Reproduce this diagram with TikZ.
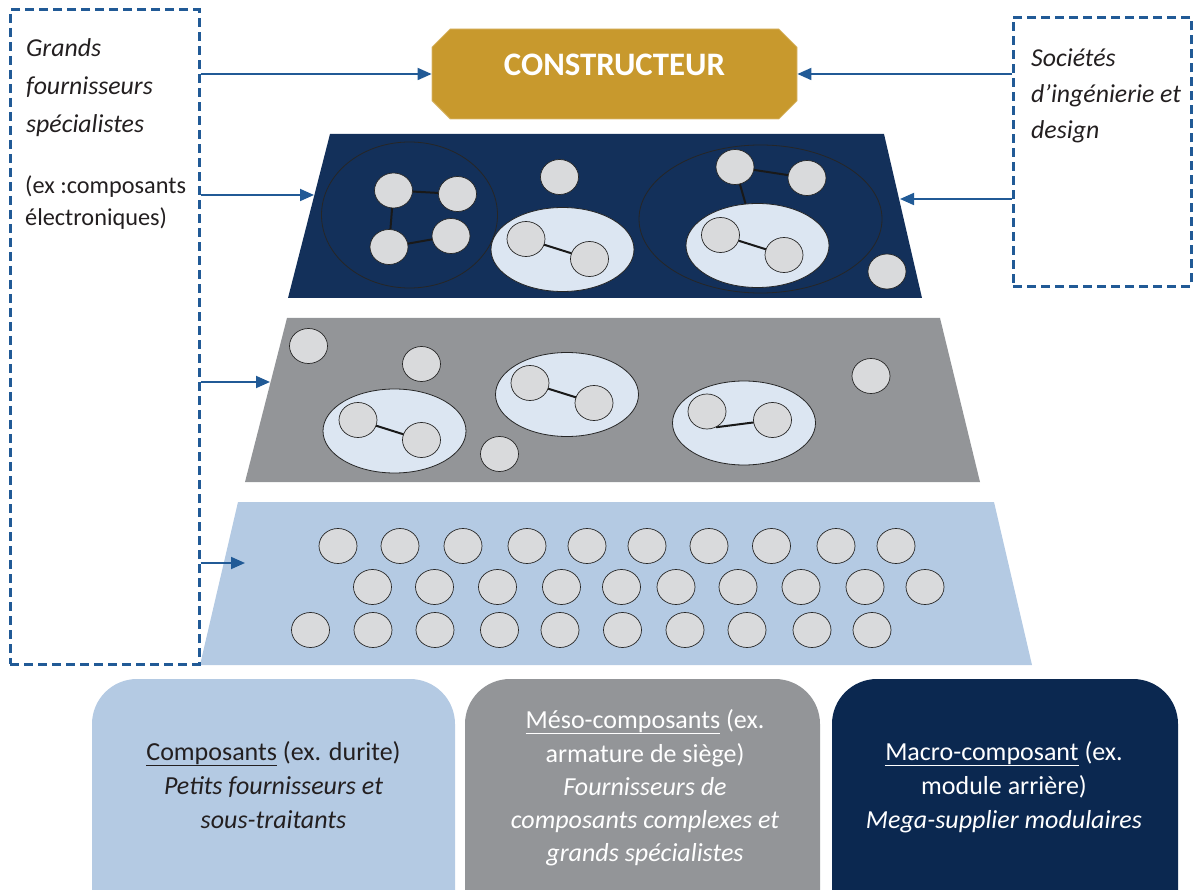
\documentclass[tikz,border=0pt]{standalone}
\usepackage{fontspec}
\setmainfont{Carlito}
\usetikzlibrary{arrows.meta,shapes.geometric,shapes.misc}
\definecolor{gold}{HTML}{C8992D}
\definecolor{navy}{HTML}{13305A}
\definecolor{navyb}{HTML}{0B2850}
\definecolor{grayt}{HTML}{939598}
\definecolor{lblue}{HTML}{B4CAE3}
\definecolor{pale}{HTML}{DCE6F2}
\definecolor{circ}{HTML}{D9DADC}
\definecolor{dblue}{HTML}{215A96}
\definecolor{txt}{HTML}{231F20}
\pgfdeclarelayer{back}
\pgfdeclarelayer{linkzero}
\pgfdeclarelayer{grps}
\pgfdeclarelayer{links}
\pgfsetlayers{back,linkzero,grps,links,main}
\begin{document}
\begin{tikzpicture}[x=1pt,y=-1pt,
 dbox/.style={draw=dblue,line width=3pt,dash pattern=on 9pt off 5pt,rectangle,inner sep=0pt},
 arr/.style={draw=dblue,line width=1.8pt,-{Triangle[length=14pt,width=12pt]}},
 sc/.style={ellipse,fill=circ,draw=black!85,line width=0.7pt,minimum width=38pt,minimum height=35pt,inner sep=0pt},
 grp/.style={ellipse,fill=pale,draw=black!85,line width=0.8pt,inner sep=0pt,minimum width=143pt,minimum height=84pt},
 ring/.style={ellipse,draw=black!85,line width=0.8pt,inner sep=0pt},
 link/.style={draw=black!90,line width=2pt},
 toptxt/.style={anchor=base west,text=txt,font=\itshape\fontsize{25.8}{26}\selectfont,inner sep=0pt},
 extxt/.style={anchor=base west,text=txt,font=\fontsize{24.3}{24}\selectfont,inner sep=0pt},
 bt/.style={anchor=base,font=\fontsize{26}{26}\selectfont,inner sep=0pt},
 bbox/.style={rectangle,rounded corners=45pt,minimum height=260pt,inner sep=0pt}
]
\useasboundingbox (0,0) rectangle (1194,890);
\clip (0,0) rectangle (1194,890);

% dashed side boxes
\node[dbox,minimum width=189pt,minimum height=654pt] (lbox) at (104.5,337) {};
\node[dbox,minimum width=178pt,minimum height=269pt] (rbox) at (1102,152) {};

% constructeur
\node[chamfered rectangle,chamfered rectangle xsep=15pt,fill=gold,draw=gold!70!white,line width=0.8pt,
  minimum width=365pt,minimum height=90pt,inner sep=0pt,text=white,
  font=\bfseries\fontsize{32.8}{33}\selectfont] (cons) at (614.5,74) {\raisebox{18pt}{CONSTRUCTEUR}};

% texts of the side boxes
\node[toptxt] (l1) at (26,57) {Grands};
\node[toptxt] (l2) at (26,95) {fournisseurs};
\node[toptxt] (l3) at (26,133) {spécialistes};
\node[extxt] (l4) at (25,194) {(ex :composants};
\node[extxt] (l5) at (25,226) {électroniques)};
\node[toptxt] (r1t) at (1031,67) {Sociétés};
\node[toptxt] (r2t) at (1031,103) {d’ingénierie et};
\node[toptxt] (r3t) at (1031,139) {design};

% trapezoids
\begin{pgfonlayer}{back}
\fill[navy] (330,134) -- (884,134) -- (922,298) -- (288,298) -- cycle;
\fill[grayt] (287,318) -- (940,318) -- (980,482) -- (245,482) -- cycle;
\fill[lblue] (238,502) -- (994,502) -- (1032,665) -- (200,665) -- cycle;
\end{pgfonlayer}
\coordinate (t1) at (314,195);
\coordinate (t1r) at (900,199);
\coordinate (t2) at (270,382);
\coordinate (t3) at (245,563);

% arrows
\draw[arr] (lbox.east |- cons.west) -- (cons.west);
\draw[arr] (rbox.west |- cons.east) -- (cons.east);
\draw[arr] (lbox.east |- t1) -- (t1);
\draw[arr] (rbox.west |- t1r) -- (t1r);
\draw[arr] (lbox.east |- t2) -- (t2);
\draw[arr] (lbox.east |- t3) -- (t3);

% ---- top (navy) layer
\begin{pgfonlayer}{grps}
\node[ring,minimum width=176pt,minimum height=146pt] (ra) at (409.5,215) {};
\node[ring,minimum width=243pt,minimum height=148pt] (rb) at (760.5,219) {};
\node[grp] (g1) at (562.5,249.5) {};
\node[grp] (g2) at (757.5,245.5) {};
\end{pgfonlayer}
\node[sc] (d1) at (393.5,190.5) {};
\node[sc] (d2) at (457.5,194) {};
\node[sc] (d3) at (389,247) {};
\node[sc] (d4) at (451,236) {};
\node[sc] (d5) at (559.5,177) {};
\node[sc] (d6) at (526,239) {};
\node[sc] (d7) at (589.5,259) {};
\node[sc] (d8) at (735,167) {};
\node[sc] (d9) at (807,178) {};
\node[sc] (d10) at (720.5,235) {};
\node[sc] (d11) at (784,255) {};
\node[sc] (d12) at (887,271.5) {};
\begin{pgfonlayer}{linkzero}
\draw[link] (d8.center) -- (g2.center);
\end{pgfonlayer}
\begin{pgfonlayer}{links}
\draw[link] (d1.center) -- (d2.center);
\draw[link] (d1.center) -- (d3.center);
\draw[link] (d3.center) -- (d4.center);
\draw[link] (d6.center) -- (d7.center);
\draw[link] (d8.center) -- (d9.center);
\draw[link] (d10.center) -- (d11.center);
\end{pgfonlayer}

% ---- middle (gray) layer
\begin{pgfonlayer}{grps}
\node[grp] (h1) at (394.5,431) {};
\node[grp] (h2) at (567,394.5) {};
\node[grp] (h3) at (744,423) {};
\end{pgfonlayer}
\node[sc] (m1) at (308.5,346) {};
\node[sc] (m2) at (421.5,364) {};
\node[sc] (m3) at (499.5,454) {};
\node[sc] (m4) at (871,376) {};
\node[sc] (m5) at (358,420) {};
\node[sc] (m6) at (421.5,440) {};
\node[sc] (m7) at (530,383) {};
\node[sc] (m8) at (594,403) {};
\node[sc] (m9) at (707,411.5) {};
\node[sc] (m10) at (772.5,420) {};
\begin{pgfonlayer}{links}
\draw[link] (m5.center) -- (m6.center);
\draw[link] (m7.center) -- (m8.center);
\draw[link] (m9.300) -- (m10.center);
\end{pgfonlayer}

% ---- bottom (light blue) layer
\foreach \x [count=\i] in {338,400,463,527,587,647,709,771.5,836,896}
  \node[sc] (pa\i) at (\x,546) {};
\foreach \x [count=\i] in {372.5,434.5,497.5,561.5,621.5,676,738,801,865,925}
  \node[sc] (pb\i) at (\x,587) {};
\foreach \x [count=\i] in {310.5,373,435,499.5,560,622.5,685,747,812,872}
  \node[sc] (pc\i) at (\x,630) {};

% ---- legend boxes
\node[bbox,fill=lblue,minimum width=363pt] (b1) at (273.5,809) {};
\node[bbox,fill=grayt,minimum width=355pt] (b2) at (642.5,809) {};
\node[bbox,fill=navyb,minimum width=346pt] (b3) at (1005,809) {};

\node[bt,text=txt] (b1a) at (273.5,760) {\underline{Composants} (ex. durite)};
\node[bt,text=txt] (b1b) at (273.5,794) {\itshape Petits fournisseurs et};
\node[bt,text=txt] (b1c) at (273.5,828) {\itshape sous-traitants};

\node[bt,text=white] (b2a) at (645,728) {\underline{Méso-composants} (ex.};
\node[bt,text=white] (b2b) at (645,762) {armature de siège)};
\node[bt,text=white] (b2c) at (645,795) {\itshape Fournisseurs de};
\node[bt,text=white] (b2d) at (645,828) {\itshape composants complexes et};
\node[bt,text=white] (b2e) at (645,861) {\itshape grands spécialistes};

\node[bt,text=white] (b3a) at (1004,760) {\underline{Macro-composant} (ex.};
\node[bt,text=white] (b3b) at (1004,794) {module arrière)};
\node[bt,text=white] (b3c) at (1004,828) {\itshape Mega-supplier modulaires};
\end{tikzpicture}
\end{document}
